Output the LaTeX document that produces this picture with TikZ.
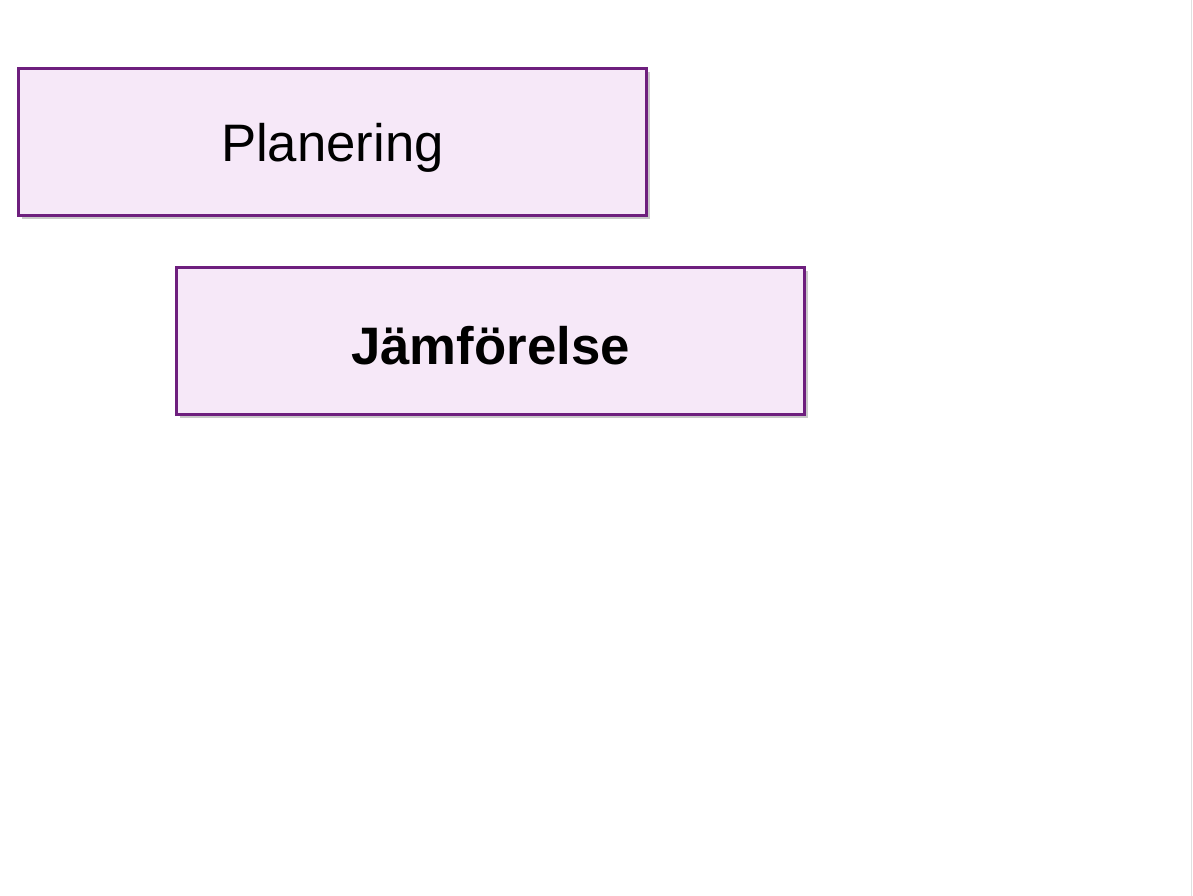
\documentclass[tikz,border=0pt]{standalone}
\usepackage{fontspec}
\setmainfont{Liberation Sans}
\usepackage{xcolor}
\usetikzlibrary{positioning,shadows}
\definecolor{boxpurple}{HTML}{6E1F7E}
\definecolor{boxfill}{HTML}{F6E8F8}

\begin{document}
\begin{tikzpicture}[
    box/.style={draw=boxpurple, fill=boxfill, line width=1.6pt, minimum width=12.56cm, minimum height=2.94cm, align=center, text depth=0pt, font=\fontsize{30}{36}\selectfont,
        drop shadow={shadow xshift=0.07cm, shadow yshift=-0.07cm, opacity=0.3, fill=black!70}}
]
\useasboundingbox (0,0) rectangle (23.86,-17.92);

\node[box, text height=22.4pt] (planering) at (6.65,-2.84) {Planering};
\node[box, text height=27pt] (jamforelse) at (9.81,-6.82) {\bfseries Jämförelse};

% slide edge
\draw[black!12, line width=0.8pt] (23.83,0) -- (23.83,-17.92);

\end{tikzpicture}
\end{document}
